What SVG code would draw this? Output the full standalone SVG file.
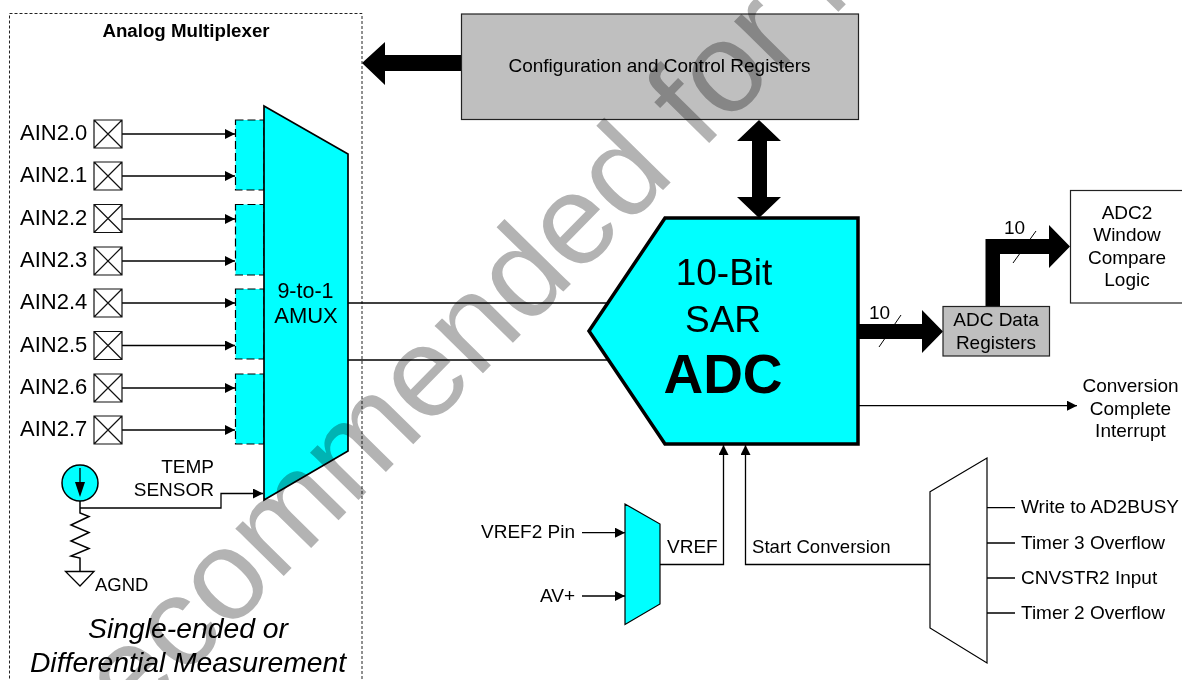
<svg xmlns="http://www.w3.org/2000/svg" width="1182" height="680" viewBox="0 0 1182 680">
<style>
text{font-family:"Liberation Sans",Arial,sans-serif;fill:#000}
.s19{font-size:19px}.s22{font-size:22px}
.m{text-anchor:middle}.e{text-anchor:end}
.w{fill:none;stroke:#000;stroke-width:1.3}
.p{fill:#fff;stroke:#111;stroke-width:1.2}
.bus{fill:#000;stroke:none}
.gray{fill:#bfbfbf;stroke:#222;stroke-width:1.2}
.cy{fill:#0ff;stroke:#000}
.inner{fill:#0ff;stroke:#000;stroke-width:1.2;stroke-dasharray:8 4}
.wm{font-size:128px;fill:#b3b3b3;mix-blend-mode:multiply}
</style>
<defs>
<marker id="a" markerUnits="userSpaceOnUse" markerWidth="11" markerHeight="10" refX="10" refY="5" orient="auto"><path d="M0 0L10 5L0 10z" fill="#000"/></marker>
</defs>
<g id="amux-frame">
<rect x="9.500" y="13.500" width="352.500" height="700" fill="none" stroke="#222" stroke-width="1" stroke-dasharray="3 2"/>
<text x="186" y="37" class="m" font-size="18.700" font-weight="bold">Analog Multiplexer</text>
</g>
<g id="connectors">
<g class="w">
<path d="M122 134H235" marker-end="url(#a)"/><path d="M122 176H235" marker-end="url(#a)"/>
<path d="M122 219H235" marker-end="url(#a)"/><path d="M122 261H235" marker-end="url(#a)"/>
<path d="M122 303H235" marker-end="url(#a)"/><path d="M122 345.500H235" marker-end="url(#a)"/>
<path d="M122 388H235" marker-end="url(#a)"/><path d="M122 430H235" marker-end="url(#a)"/>
<path d="M80 508H221V493.500H263" marker-end="url(#a)"/>
<path d="M348 303H620"/><path d="M348 360H620"/>
<path d="M858 405.700H1077" marker-end="url(#a)"/>
<path d="M582 532.700H625" marker-end="url(#a)"/><path d="M582 596H625" marker-end="url(#a)"/>
<path d="M660 564.500H723.500V445" marker-end="url(#a)"/>
<path d="M930 564.500H745.500V445" marker-end="url(#a)"/>
<path d="M987 507.700H1015M987 543H1015M987 578H1015M987 613H1015"/>
<path d="M879 347L901 315M1013 263L1036 231" stroke-width="1"/>
</g>
<path class="bus" d="M461 55V71H385V85L362 63L385 42V55z"/>
<path class="bus" d="M759 120L781 141H767V197H781L759 218L737 197H752V141H737z"/>
<path class="bus" d="M858 324H922V310L943 331.500L922 353V339H858z"/>
<path class="bus" d="M985.500 306V239H1049V225L1070 246.500L1049 268V254H1000V306z"/>
</g>
<g id="temp-sensor">
<circle cx="80" cy="483" r="18" class="cy" stroke-width="1.500"/>
<path d="M80 468V484" stroke="#000" stroke-width="1.300"/><path d="M75 482H85L80 497z" fill="#000"/>
<path class="w" style="stroke-width:1.500" d="M80 501V513L89 516.500L71 525L89 532.500L71 541L89 548.500L71 556L80 558V571"/>
<path d="M65.500 571.500H94L80 586z" fill="#fff" stroke="#000" stroke-width="1.300"/>
<text x="95" y="591" font-size="18.500">AGND</text>
<text x="214" y="473" class="e s19">TEMP</text>
<text x="214" y="496" class="e s19">SENSOR</text>
</g>
<g id="amux">
<rect class="inner" x="235.500" y="120" width="28.500" height="70"/>
<rect class="inner" x="235.500" y="204.500" width="28.500" height="70.500"/>
<rect class="inner" x="235.500" y="289" width="28.500" height="70"/>
<rect class="inner" x="235.500" y="374" width="28.500" height="70"/>
<path class="cy" stroke-width="1.700" d="M264 106L348 154V451L264 500z"/>
<text x="305.500" y="298" class="m" font-size="21.500">9-to-1</text>
<text x="306" y="323" class="m s22">AMUX</text>
</g>
<g id="pins">
<g class="p">
<path d="M94 120h28v28h-28zM94 120l28 28M122 120l-28 28"/>
<path d="M94 162h28v28h-28zM94 162l28 28M122 162l-28 28"/>
<path d="M94 204.500h28v28h-28zM94 204.500l28 28M122 204.500l-28 28"/>
<path d="M94 247h28v28h-28zM94 247l28 28M122 247l-28 28"/>
<path d="M94 289h28v28h-28zM94 289l28 28M122 289l-28 28"/>
<path d="M94 331.500h28v28h-28zM94 331.500l28 28M122 331.500l-28 28"/>
<path d="M94 374h28v28h-28zM94 374l28 28M122 374l-28 28"/>
<path d="M94 416h28v28h-28zM94 416l28 28M122 416l-28 28"/>
</g>
<text x="20" y="140" class="s22">AIN2.0</text><text x="20" y="182" class="s22">AIN2.1</text>
<text x="20" y="225" class="s22">AIN2.2</text><text x="20" y="267" class="s22">AIN2.3</text>
<text x="20" y="309" class="s22">AIN2.4</text><text x="20" y="351.500" class="s22">AIN2.5</text>
<text x="20" y="394" class="s22">AIN2.6</text><text x="20" y="436" class="s22">AIN2.7</text>
</g>
<g id="measurement-note">
<text x="188" y="638" class="m" font-size="28.300" font-style="italic">Single-ended or</text>
<text x="188" y="672" class="m" font-size="28.300" font-style="italic">Differential Measurement</text>
</g>
<g id="config-registers">
<rect class="gray" x="461.500" y="14" width="397" height="105.500"/>
<text x="659.500" y="72" class="m" font-size="19">Configuration and Control Registers</text>
</g>
<g id="adc">
<path class="cy" stroke-width="3.500" d="M665 218H858V444H665L589 331z"/>
<text x="724" y="285" class="m" font-size="37">10-Bit</text>
<text x="723" y="332" class="m" font-size="37">SAR</text>
<text x="723" y="393" class="m" font-size="55" font-weight="bold">ADC</text>
</g>
<g id="data-registers">
<rect class="gray" x="943" y="306.500" width="106.500" height="49.500"/>
<text x="996" y="325.500" class="m s19">ADC Data</text>
<text x="996" y="349" class="m s19">Registers</text>
<text x="869" y="319" class="s19">10</text>
<text x="1004" y="234" class="s19">10</text>
</g>
<g id="window-compare">
<rect x="1070.500" y="190.500" width="130" height="112.500" fill="#fff" stroke="#222" stroke-width="1.200"/>
<text x="1127" y="219" class="m s19">ADC2</text><text x="1127" y="241" class="m s19">Window</text>
<text x="1127" y="264" class="m s19">Compare</text><text x="1127" y="286" class="m s19">Logic</text>
</g>
<g id="interrupt">
<text x="1130.500" y="392" class="m s19">Conversion</text><text x="1130.500" y="415" class="m s19">Complete</text><text x="1130.500" y="437" class="m s19">Interrupt</text>
</g>
<g id="vref-mux">
<path class="cy" stroke-width="1.200" d="M625 504L660 524V604L625 624.500z"/>
<text x="575" y="538" class="e s19">VREF2 Pin</text>
<text x="575" y="602" class="e s19">AV+</text>
<text x="667" y="552.500" class="s19">VREF</text>
</g>
<g id="start-mux">
<path d="M930 491.700L987 458V663L930 628z" fill="#fff" stroke="#000" stroke-width="1.200"/>
<text x="752" y="552.500" font-size="18.600">Start Conversion</text>
<text x="1021" y="513" class="s19">Write to AD2BUSY</text>
<text x="1021" y="549" class="s19">Timer 3 Overflow</text>
<text x="1021" y="584" class="s19">CNVSTR2 Input</text>
<text x="1021" y="619" class="s19">Timer 2 Overflow</text>
</g>
<text class="wm" transform="translate(68 795.500) rotate(-45.500)">Recommended for N</text>
</svg>
